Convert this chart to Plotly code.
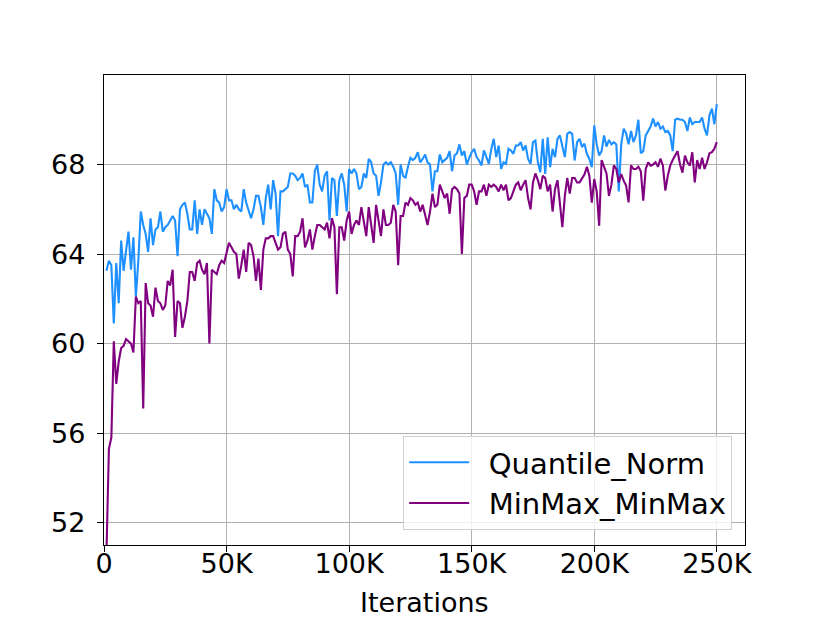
import plotly.graph_objects as go

iterations = list(range(1000, 251000, 1000))

quantile_norm = [
    63.25, 63.7, 63.5, 60.9, 63.6, 61.8, 64.6, 63.25, 64.15, 65.0,
    63.3, 64.75, 62.1, 63.7, 65.9, 65.3, 64.9, 64.1, 65.6, 64.4,
    65.1, 65.2, 65.9, 65.0, 65.2, 65.3, 65.5, 65.7, 65.5, 63.9,
    66.0, 66.2, 66.3, 65.8, 65.1, 65.1, 66.4, 64.9, 66.0, 65.3,
    66.0, 65.8, 65.6, 64.9, 66.9, 66.4, 66.3, 65.9, 66.1, 66.9,
    66.4, 66.4, 66.0, 66.2, 66.0, 65.9, 66.9, 66.3, 65.9, 65.6,
    66.0, 66.6, 66.6, 66.1, 65.3, 66.5, 67.1, 66.0, 67.3, 66.7,
    64.8, 66.8, 66.8, 66.9, 67.0, 67.6, 67.6, 67.5, 67.3, 67.4,
    67.6, 67.0, 67.1, 66.3, 66.3, 67.7, 68.0, 67.1, 66.8, 67.5,
    67.7, 65.5, 67.4, 67.3, 65.7, 67.3, 67.6, 67.1, 65.9, 67.8,
    67.6, 67.8, 67.6, 66.9, 67.0, 67.6, 67.4, 68.25, 68.1, 67.6,
    67.5, 66.6, 67.2, 68.0, 68.1, 68.0, 68.1, 67.9, 67.6, 66.2,
    68.0, 67.5, 67.4, 67.9, 68.3, 68.2, 68.3, 68.55, 68.1, 68.25,
    68.45, 68.1, 68.0, 66.8, 67.7, 67.7, 68.45, 68.1, 68.2, 68.3,
    68.6, 67.7, 68.4, 68.5, 68.9, 68.4, 68.6, 68.0, 68.3, 68.55,
    68.7, 68.33, 68.18, 67.96, 68.63, 68.33, 68.03, 68.7, 69.15, 68.33,
    68.85, 67.8, 68.1, 68.03, 68.7, 68.63, 68.48, 68.85, 68.85, 69.0,
    68.63, 68.85, 68.25, 68.03, 69.0, 69.07, 68.1, 67.66, 69.15, 67.58,
    69.22, 67.88, 68.7, 68.33, 69.15, 69.3, 68.78, 68.33, 69.37, 69.45,
    69.37, 68.18, 69.0, 69.15, 68.78, 68.93, 68.48, 68.25, 67.88, 69.75,
    68.9, 68.4, 68.6, 69.3, 68.8, 69.1, 68.9, 69.0, 68.9, 66.8,
    68.9, 69.6, 69.4, 68.9, 69.5, 69.0, 69.3, 70.0, 68.5, 68.6,
    69.3, 69.5, 69.7, 70.05, 69.7, 69.9, 69.6, 69.7, 69.45, 69.5,
    69.3, 68.6, 70.0, 70.05, 70.0, 70.0, 69.9, 69.5, 70.1, 69.8,
    69.9, 69.9, 69.9, 70.1, 69.6, 69.3, 70.2, 70.5, 69.8, 70.7,
]

minmax_minmax = [
    50.6, 55.3, 55.8, 60.1, 58.2, 59.2, 59.8, 59.9, 60.2, 60.1,
    60.0, 59.6, 62.1, 61.8, 61.9, 57.1, 62.7, 61.8, 61.7, 61.2,
    62.5, 61.9, 61.8, 61.5, 61.7, 62.8, 62.6, 63.3, 60.3, 61.9,
    61.8, 60.7, 61.2, 61.9, 63.2, 63.2, 62.8, 63.6, 63.7, 63.3,
    63.1, 63.6, 60.0, 63.3, 63.2, 63.1, 63.5, 63.7, 63.6, 64.0,
    64.5, 64.3, 64.1, 64.0, 62.9, 63.5, 64.2, 63.2, 64.5, 64.4,
    63.9, 62.8, 63.8, 62.4, 64.2, 64.7, 64.7, 64.8, 64.8, 64.5,
    64.2, 64.3, 64.9, 65.0, 64.2, 64.0, 63.0, 64.8, 64.8, 65.0,
    65.6, 64.3, 64.6, 65.1, 64.2, 64.8, 65.3, 65.3, 65.2, 65.1,
    65.4, 64.7, 65.6, 65.2, 62.2, 65.2, 65.2, 64.6, 65.5, 65.9,
    64.9, 65.3, 65.5, 65.3, 66.1, 65.4, 64.8, 66.1, 65.2, 64.5,
    66.2, 65.4, 64.8, 66.0, 65.3, 65.3, 65.4, 66.2, 65.9, 63.5,
    65.7, 65.7, 66.3, 66.2, 66.5, 66.4, 66.2, 66.3, 65.9, 66.2,
    65.8, 65.3, 65.9, 66.7, 66.1, 66.2, 67.1, 66.8, 66.5, 66.7,
    65.8, 66.9, 67.0, 66.9, 66.7, 64.0, 66.5, 66.6, 67.1, 67.1,
    66.8, 66.2, 66.8, 66.8, 67.1, 66.6, 67.1, 67.0, 67.1, 67.0,
    66.8, 67.1, 66.85, 67.1, 66.4, 66.5, 66.85, 67.1, 67.2, 66.85,
    67.1, 67.3, 66.5, 66.0, 67.2, 67.6, 67.3, 66.9, 67.5, 67.4,
    66.8, 67.1, 65.9, 66.9, 67.3, 66.3, 65.2, 66.6, 67.4, 66.7,
    67.4, 67.4, 67.2, 67.2, 67.4, 67.55, 67.9, 67.5, 66.3, 67.35,
    66.8, 65.27, 68.2, 67.9, 67.6, 66.6, 67.1, 67.96, 67.8, 67.2,
    67.57, 67.28, 67.06, 66.31, 67.96, 67.8, 67.8, 67.9, 67.7, 66.39,
    67.8, 68.1, 67.95, 68.0, 68.1, 67.9, 68.26, 67.96, 66.84, 67.5,
    67.95, 68.2, 68.4, 68.6, 68.0, 67.64, 68.4, 68.1, 67.95, 68.55,
    67.2, 68.2, 67.8, 68.3, 67.8, 68.1, 68.5, 68.55, 68.7, 69.0,
]

x_tick_vals = [0, 50000, 100000, 150000, 200000, 250000]
x_tick_text = ["0", "50K", "100K", "150K", "200K", "250K"]
y_tick_vals = [52, 56, 60, 64, 68]
y_tick_text = ["52", "56", "60", "64", "68"]

FONT = "DejaVu Sans"

fig = go.Figure()
fig.add_trace(go.Scatter(x=iterations, y=quantile_norm, mode="lines",
                         name="\u2002Quantile_Norm",
                         line=dict(color="#1E90FF", width=2.1)))
fig.add_trace(go.Scatter(x=iterations, y=minmax_minmax, mode="lines",
                         name="\u2002MinMax_MinMax",
                         line=dict(color="#800080", width=2.1)))

axis_common = dict(
    showline=True, linecolor="black", linewidth=1.3, mirror=True,
    showgrid=True, gridcolor="#b0b0b0", gridwidth=1.1,
    ticks="outside", ticklen=6, tickwidth=1.2, tickcolor="black",
    zeroline=False, automargin=False,
    tickfont=dict(family=FONT, size=27, color="black"),
)

# the page body adds an 8px offset, so the figure is sized/margined to compensate
fig.update_layout(
    template="none",
    width=822, height=615,
    margin=dict(l=96, r=85, t=67, b=78, autoexpand=False),
    paper_bgcolor="white", plot_bgcolor="white",
    font=dict(family=FONT, color="black"),
    xaxis=dict(range=[0, 261500], tickvals=x_tick_vals, ticktext=x_tick_text,
               ticklabelstandoff=-12, **axis_common),
    yaxis=dict(range=[51, 72], tickvals=y_tick_vals, ticktext=y_tick_text,
               ticklabelstandoff=6, **axis_common),
    legend=dict(x=0.98, y=0.032, xanchor="right", yanchor="bottom",
                bgcolor="rgba(255,255,255,0.8)", bordercolor="#d0d0d0", borderwidth=1,
                font=dict(family=FONT, size=29, color="black"),
                itemwidth=60, tracegroupgap=0),
    showlegend=True,
    annotations=[dict(text="Iterations", xref="paper", yref="paper",
                      x=0.5, y=0, xanchor="center", yanchor="top", yshift=-40,
                      showarrow=False, font=dict(family=FONT, size=27, color="black"))],
)

fig.write_html("out.html")
